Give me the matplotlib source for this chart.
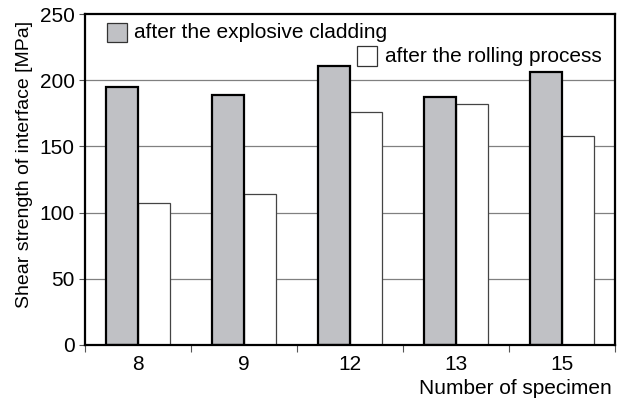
import matplotlib
matplotlib.use("Agg")
import matplotlib.pyplot as plt
from matplotlib.patches import Rectangle
import numpy as np

plt.rcParams['font.family'] = ['Liberation Sans', 'DejaVu Sans']

specimens = ["8", "9", "12", "13", "15"]
after_cladding = [195, 189, 211, 187, 206]
after_rolling = [107, 114, 176, 182, 158]
y_ticks = [0, 50, 100, 150, 200, 250]

FS = 15

fig = plt.figure(figsize=(6.17, 3.98), dpi=100)
ax = fig.add_axes([85/617, 1-345/398, 530/617, 331/398])

x = np.arange(len(specimens))
w = 0.3
ax.bar(x + w/2, after_rolling, width=w, color='white', edgecolor='#444444',
       linewidth=0.9, zorder=3)
ax.bar(x - w/2, after_cladding, width=w, color='#c0c1c5', edgecolor='black',
       linewidth=1.6, zorder=4)

ax.set_xlim(-0.5, len(specimens) - 0.5)
ax.set_ylim(0, 250)
ax.set_yticks(y_ticks)
ax.set_yticklabels([str(t) for t in y_ticks])
for t in y_ticks[1:-1]:
    ax.axhline(t, color='#808080', linewidth=0.9, zorder=1)

ax.set_xticks(x)
ax.set_xticklabels(specimens)
ax.set_xticks(np.arange(-0.5, len(specimens)), minor=True)
ax.tick_params(axis='x', which='major', length=0, pad=7, labelsize=FS)
ax.tick_params(axis='x', which='minor', length=5, width=0.8, color='#555555', direction='out')
ax.tick_params(axis='y', which='major', length=4.5, width=0.8, color='#555555', pad=3, labelsize=FS)

for s in ax.spines.values():
    s.set_linewidth(1.6)
    s.set_color('black')
    s.set_zorder(5)

ax.set_ylabel("Shear strength of interface [MPa]", fontsize=14)
ax.yaxis.set_label_coords(-0.098, 0.544)
fig.text(612/617, 1-388/398, "Number of specimen", ha='right', va='center', fontsize=FS)

# legend (manual)
ax.add_patch(Rectangle((0.041, 0.915), 0.0377, 0.058, transform=ax.transAxes,
                       facecolor='#c0c1c5', edgecolor='#333333', linewidth=0.9,
                       zorder=6, clip_on=False))
ax.text(0.0925, 0.945, "after the explosive cladding", transform=ax.transAxes,
        ha='left', va='center', fontsize=FS, zorder=6)
ax.add_patch(Rectangle((0.513, 0.844), 0.0377, 0.058, transform=ax.transAxes,
                       facecolor='white', edgecolor='#333333', linewidth=0.9,
                       zorder=6, clip_on=False))
ax.text(0.566, 0.873, "after the rolling process", transform=ax.transAxes,
        ha='left', va='center', fontsize=FS, zorder=6)

fig.savefig("out.png", dpi=100)
